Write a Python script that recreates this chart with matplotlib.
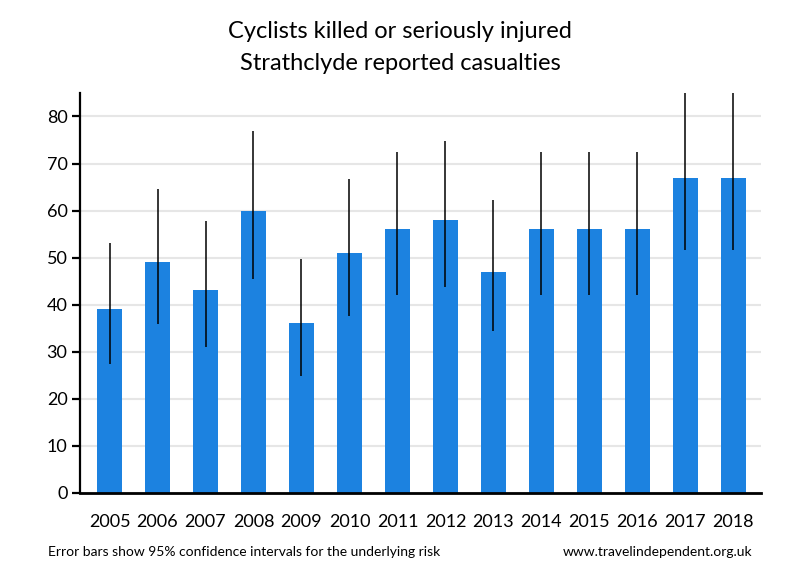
import numpy as np
import matplotlib.pyplot as plt

plt.rcParams['font.family'] = ['Lato', 'DejaVu Sans']

years = ['2005', '2006', '2007', '2008', '2009', '2010', '2011',
         '2012', '2013', '2014', '2015', '2016', '2017', '2018']
casualties = [39, 49, 43, 60, 36, 51, 56, 58, 47, 56, 56, 56, 67, 67]
ci_lower = [27.4, 35.9, 30.9, 45.5, 24.9, 37.6, 42.1,
            43.8, 34.3, 42.1, 42.1, 42.1, 51.7, 51.7]
ci_upper = [53.1, 64.6, 57.8, 77.0, 49.7, 66.7, 72.5,
            74.8, 62.3, 72.5, 72.5, 72.5, 85.1, 85.1]

x = np.arange(len(years))
vals = np.array(casualties)
yerr = [vals - np.array(ci_lower), np.array(ci_upper) - vals]

fig = plt.figure(figsize=(8, 5.8), dpi=100)
ax = fig.add_axes([0.1, 0.1505, 0.851, 0.6892])

ax.bar(x, vals, width=0.52, color="#1c82e0", zorder=2)
ax.errorbar(x, vals, yerr=yerr, fmt="none", ecolor="black", elinewidth=1.1,
            capsize=0, zorder=3)

ax.set_xlim(-0.615, 13.57)
ax.set_ylim(0, 85)
ax.set_yticks(range(0, 81, 10))
ax.set_xticks(x)
ax.set_xticklabels(years)
ax.yaxis.grid(True, color="#e6e6e6", lw=1.5, zorder=0)
ax.set_axisbelow(True)

for s in ["top", "right"]:
    ax.spines[s].set_visible(False)
ax.spines["left"].set_linewidth(1.6)
ax.spines["bottom"].set_linewidth(2)
ax.tick_params(axis="y", length=6, width=1.6, labelsize=13, pad=3)
ax.tick_params(axis="x", length=0, labelsize=13, pad=15)

fig.text(0.5, 0.946, "Cyclists killed or seriously injured", ha="center", va="center", fontsize=17)
fig.text(0.5, 0.891, "Strathclyde reported casualties", ha="center", va="center", fontsize=17)
fig.text(0.06, 0.048, "Error bars show 95% confidence intervals for the underlying risk",
         ha="left", va="center", fontsize=10)
fig.text(0.94, 0.048, "www.travelindependent.org.uk", ha="right", va="center", fontsize=10)

fig.savefig("out.png", dpi=100)
